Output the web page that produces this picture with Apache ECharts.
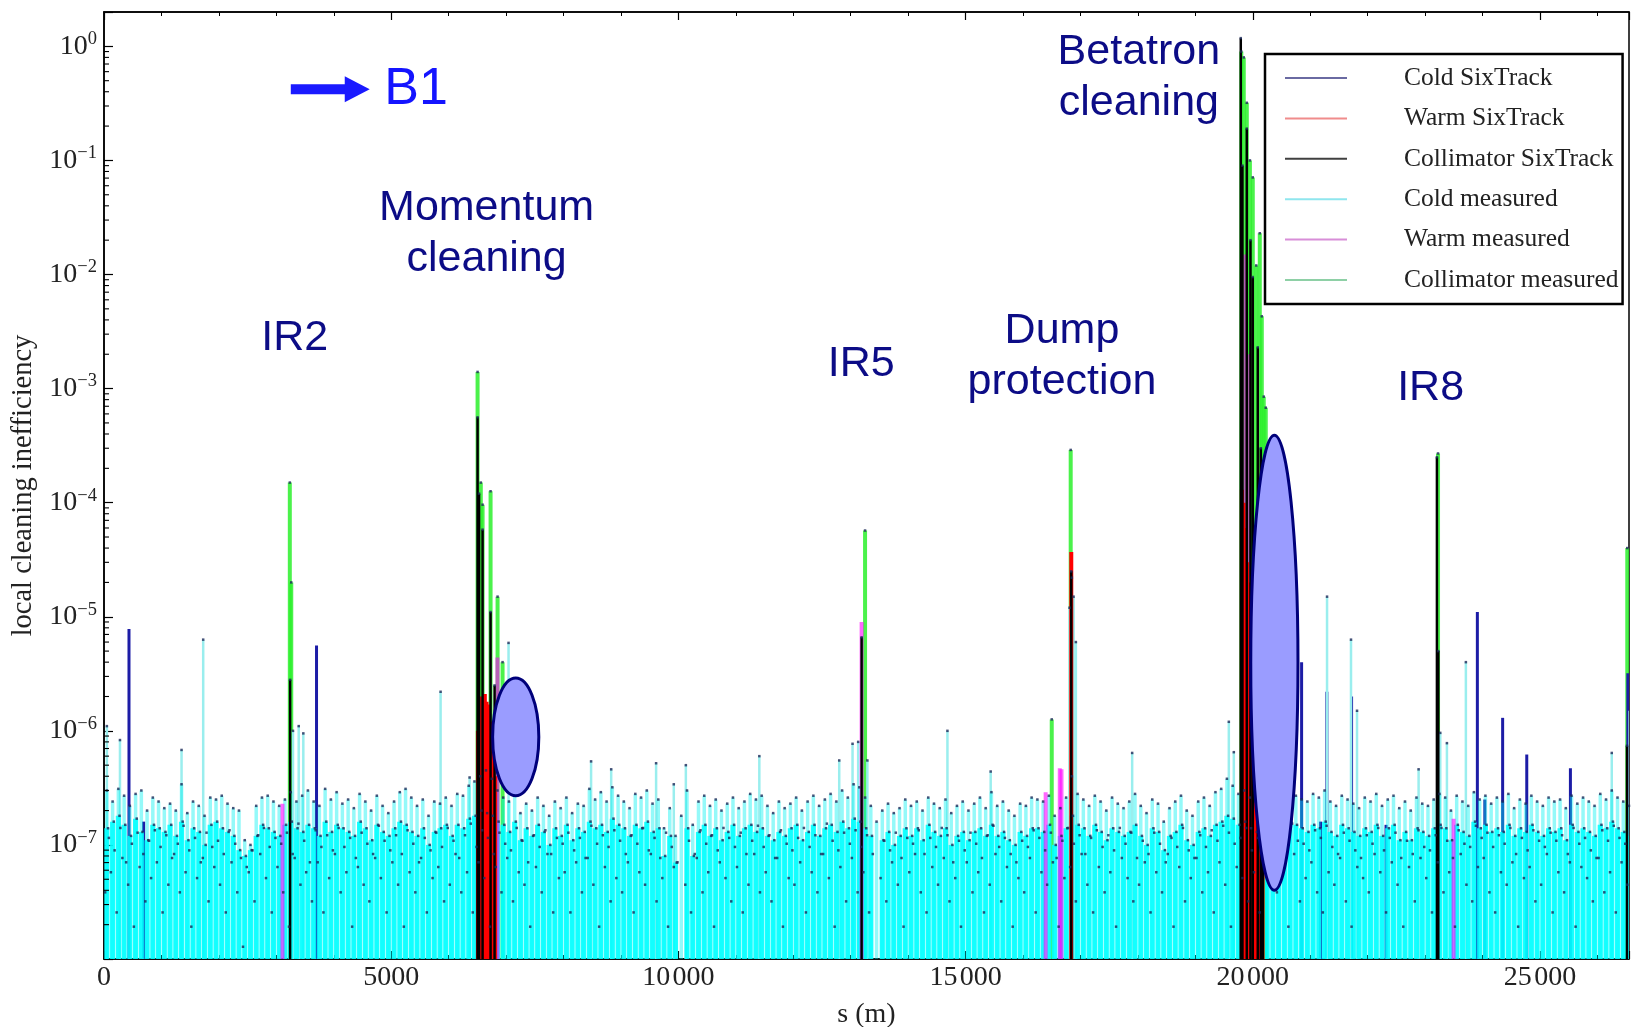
<!DOCTYPE html>
<html>
<head>
<meta charset="utf-8">
<script src="https://cdn.jsdelivr.net/npm/echarts@6.0.0/dist/echarts.min.js"></script>
<style>
html,body{margin:0;padding:0;background:#fff}
#chart{width:1632px;height:1027px}
</style>
</head>
<body>
<div id="chart"></div>
<script>
// axis ranges
var yMin = 1e-8, yMax = 2, sMax = 26550;
var xTickLabels = [0, 5000, 10000, 15000, 20000, 25000];
var decades = [-8, -7, -6, -5, -4, -3, -2, -1, 0];
var minorMantissa = [2, 3, 4, 5, 6, 7, 8, 9];

// cold measured, one value per 100 m bin, in units of 1e-8 (pale tops)
var binStep = 100, unit = 1e-8, quantum = 0.64e-8;
var coldMeasured = [
  30,24,31,27,22,28,30,20,26,24, 21,23,20,34,19,24,22,18,26,25,
  27,23,21,20,11,10,22,26,27,24, 22,25,29,24,27,30,24,22,31,25,
  29,23,25,21,28,24,20,27,22,19, 24,29,31,26,22,25,18,24,23,26,
  22,28,27,33,36,40,45,38,30,26, 24,28,19,23,20,26,22,18,24,21,
  26,19,23,22,31,25,29,24,32,27, 24,21,28,26,30,23,25,14,21,12,
  18,30,15,24,27,22,25,20,23,26, 21,24,28,25,27,22,19,24,21,23,
  26,20,24,27,22,25,28,24,30,26, 34,32,26,22,16,20,23,19,21,25,
  22,24,20,26,23,21,25,19,22,24, 20,23,26,21,29,22,24,20,18,23,
  22,26,25,24,27,18,21,26,40,28, 25,22,27,24,20,26,23,21,24,28,
  22,19,25,23,16,21,24,27,20,18, 24,26,22,29,31,38,33,28,30,26,
  24,20,25,28,26,24,30,27,25,24, 28,26,30,24,22,27,25,23,21,26,
  24,28,22,25,27,21,24,20,26,23, 22,25,28,26,20,27,24,22,29,25,
  27,23,26,24,28,21,25,23,27,24, 22,26,24,25,21,27,23,26,24,22,
  28,25,30,26,24,22,27
];
// second (lower) set of cold monitors, units of 1e-8 (solid fill)
var coldLow = [
  14,16,18,15,12,17,13,11,15,14, 13,15,12,16,11,14,13,10,15,16,
  14,13,12,9,8,9,12,15,14,13, 12,15,16,14,13,15,14,12,16,13,
  15,14,13,12,16,14,11,15,13,12, 14,16,15,13,12,14,10,13,14,15,
  12,15,14,17,18,20,19,18,16,15, 13,16,11,14,12,15,13,10,14,12,
  15,11,14,13,16,14,15,13,17,15, 14,12,15,14,16,13,14,8,12,7,
  0,14,8,13,15,12,14,11,13,15, 12,14,15,13,14,12,11,13,12,14,
  15,11,13,15,12,14,15,13,16,14, 17,16,14,12,0,11,13,10,12,14,
  12,14,11,15,13,12,14,10,12,13, 11,13,14,12,15,12,13,11,10,13,
  12,14,14,13,15,10,12,14,18,15, 14,12,15,13,11,14,13,12,13,15,
  12,10,14,13,9,12,13,15,11,10, 13,14,12,15,16,18,17,15,16,14,
  13,11,14,15,14,13,16,15,14,13, 15,14,16,13,12,15,14,13,12,14,
  13,15,12,14,15,11,13,11,14,13, 12,14,15,14,11,15,13,12,16,14,
  15,13,14,13,15,12,14,13,15,13, 12,14,13,14,11,15,13,14,13,12,
  15,14,16,14,13,12,15
];
// SixTrack loss counts seen as dots (units of the 0.64e-8 quantum)
var dotsA = [
  6,9,4,12,7,3,10,5,8,11, 4,7,13,6,9,3,8,12,5,10, 7,4,11,6,2,9,5,13,8,4,
  10,6,3,12,7,9,5,11,4,8, 13,6,9,3,10,7,5,12,8,4, 11,7,3,9,6,12,4,8,10,5,
  7,13,6,9,4,11,8,3,10,6, 12,5,9,7,3,10,6,13,4,8, 9,4,11,6,12,7,3,10,5,8,
  6,11,4,9,7,13,5,8,3,10, 0,7,4,12,6,9,3,11,8,5, 10,4,7,13,6,9,5,12,3,8,
  7,11,4,9,6,13,8,3,10,5, 12,6,9,4,0,8,5,11,7,3, 9,13,6,4,10,7,12,5,8,3,
  11,6,9,4,7,13,5,10,3,8, 6,12,4,9,7,11,3,8,10,5, 13,7,4,10,6,9,3,12,8,5,
  7,11,4,9,6,13,3,10,5,8, 12,6,9,4,11,7,3,10,8,5, 9,4,12,7,6,10,3,13,5,8,
  11,6,4,9,7,12,5,3,10,8, 6,13,9,4,11,7,3,10,5,12, 8,4,11,6,9,3,13,7,5,10,
  12,6,4,9,7,11,3,8,10,5, 7,13,4,9,6,11,3,10,8,5, 12,6,9,4,11,7,3
];
var dotsB = [
  18,14,22,11,16,20,13,17,21,15, 19,12,16,23,14,18,11,20,15,17, 13,21,16,12,10,14,19,22,15,18,
  16,20,13,24,17,11,21,15,19,14, 22,15,18,12,20,16,13,23,17,14, 19,13,21,16,11,18,14,20,15,22,
  17,12,19,24,15,21,18,13,20,16, 14,22,17,11,19,15,21,13,18,16, 20,14,18,12,23,16,19,15,21,17,
  13,19,16,22,14,18,12,20,15,11, 0,17,13,21,16,19,14,22,18,15, 20,13,17,23,15,19,12,21,16,14,
  18,22,15,19,13,24,17,14,20,16, 21,15,19,13,0,17,14,20,12,18, 16,21,13,18,15,22,19,11,17,14,
  20,16,12,19,23,15,18,13,11,17, 15,21,18,14,20,12,17,22,16,19, 13,18,21,15,19,14,22,16,20,12,
  17,13,20,16,11,18,15,22,14,12, 19,15,21,17,23,20,16,18,22,14, 18,13,20,22,15,19,24,17,16,14,
  21,18,23,15,13,20,17,14,12,19, 16,22,14,18,20,12,17,13,21,15, 14,19,22,17,12,21,16,15,23,18,
  20,15,19,16,22,13,18,14,21,17, 15,20,17,19,13,22,16,18,14,12, 21,17,23,18,16,14,20
];

// isolated cold measured spikes [s (m), value]
var coldSpikeS = [50, 278, 1350, 1727, 3290, 3390, 3470, 5860, 6365, 7043, 8480, 8830, 9612, 9920, 10130,
  11409, 12800, 13032, 13130, 13290, 14684, 15437, 16810, 16850, 16880, 16920, 17900, 19583, 19670,
  21293, 21710, 21815, 22887, 23264, 23380, 23710, 26250, 26560];
var coldSpikeV = [1.1e-6, 8.3e-7, 6.8e-7, 6.3e-6, 1.0e-6, 1.1e-6, 9.5e-7, 2.2e-6, 3.9e-7, 5.9e-6, 5.4e-7, 4.6e-7, 5.2e-7, 3.4e-7, 5e-7,
  6e-7, 5.5e-7, 7.7e-7, 8e-7, 5.5e-7, 1.0e-6, 4.4e-7, 1.2e-5, 2.2e-5, 1.5e-5, 6e-6, 6.4e-7, 1.2e-6, 6.5e-7,
  1.5e-5, 6.3e-6, 1.5e-6, 4.6e-7, 9.6e-7, 7.8e-7, 4e-6, 6.4e-7, 1.5e-6];

// Cold SixTrack
var coldSixS = [435, 690, 3700, 20850, 21180, 21290, 21720, 22320, 23910, 24040, 24350, 24770, 25530, 26530];
var coldSixV = [7.8e-6, 1.6e-7, 5.6e-6, 4.0e-6, 1.6e-7, 2.2e-6, 2.0e-6, 1.5e-7, 1.1e-5, 2.5e-7, 1.3e-6, 6.2e-7, 4.7e-7, 3.2e-6];

// Warm SixTrack
var warmSixS = [6510, 6540, 6570, 6600, 6630, 6660, 6690, 6720, 6750, 6780, 6810, 16840,
  19810, 19840, 19870, 19900, 19930, 19960, 19990, 20020, 20050, 20080, 20110, 20140, 20170];
var warmSixV = [1.0e-6, 1.6e-6, 2.0e-6, 1.9e-6, 2.1e-6, 1.8e-6, 1.7e-6, 1.2e-6, 8e-7, 6e-7, 4e-7, 3.7e-5,
  1.3e-4, 1.0e-4, 6e-5, 3e-5, 2e-5, 1e-5, 8e-6, 6e-6, 5e-6, 4e-6, 3e-6, 2e-6, 1e-6];

// Collimator SixTrack
var collSixS = [3240, 6504, 6530, 6591, 6730, 6800, 13190, 16840, 19791, 19820, 19896, 19960, 20000, 20087, 20140, 20175, 23206, 23230, 26515];
var collSixV = [2.8e-6, 5.6e-4, 1.2e-4, 5.8e-5, 1.1e-5, 2.5e-6, 6.6e-6, 2.5e-5, 1.18, 0.09, 0.19, 0.02, 9.5e-3, 2.3e-3, 3e-4, 2e-4, 2.5e-4, 5e-6, 7.4e-7];

// Warm measured
var warmMeasS = [3107, 6850, 13190, 16394, 16640, 16670, 19870, 19930, 23496, 26600];
var warmMeasV = [2.3e-7, 4.4e-6, 9e-6, 2.9e-7, 4.7e-7, 4.6e-7, 0.015, 2e-3, 1.7e-7, 2.5e-7];

// Collimator measured
var collMeasS = [3235, 3260, 6504, 6560, 6591, 6730, 6852, 6939, 13250, 16500, 16830,
  19800, 19843, 19896, 19950, 20000, 20060, 20122, 20157, 20191, 20226, 23225, 26520];
var collMeasV = [1.5e-4, 2e-5, 1.4e-3, 1.5e-4, 9.6e-5, 1.26e-4, 1.5e-5, 4e-6, 5.7e-5, 1.26e-6, 2.9e-4,
  0.9, 0.8, 0.32, 0.1, 0.071, 0.012, 0.023, 4.3e-3, 8.5e-4, 6.8e-4, 2.7e-4, 4e-5];

// annotations (data coordinates)
var labelText = ['Momentum\ncleaning', 'IR2', 'IR5', 'Dump\nprotection', 'Betatron\ncleaning', 'IR8'];
var labelS = [6661, 3322, 13183, 16678, 18017, 23096];
var labelV = [0.0226, 2.79e-3, 1.65e-3, 1.89e-3, 0.535, 1.01e-3];
// ellipses: s from, s to, value top, value bottom
var ellipseS0 = [6766, 19965], ellipseS1 = [7570, 20787];
var ellipseTop = [2.9e-6, 3.9e-4], ellipseBottom = [2.7e-7, 4.0e-8];
// beam direction arrow
var arrowS = [3252, 4191, 4626], arrowV = 0.42, beamS = 4880, beamV = 0.415;

function pairs(sArr, vArr) {
  var out = [];
  for (var i = 0; i < sArr.length; i++) if (vArr[i] > 0) out.push([sArr[i], vArr[i]]);
  return out;
}
function binPairs(vals, scale, shift) {
  var out = [];
  for (var i = 0; i < vals.length; i++) {
    if (vals[i] > 0) out.push([binStep * i + binStep / 2 + shift, vals[i] * scale]);
  }
  return out;
}

function stick(width, color, opacity) {
  return function (params, api) {
    var s = api.value(0), v = api.value(1);
    var top = api.coord([s, v]);
    var base = api.coord([s, yMin]);
    return {
      type: 'rect',
      shape: { x: top[0] - width / 2, y: top[1], width: width, height: base[1] - top[1] },
      style: { fill: color, opacity: opacity }
    };
  };
}
function stickSeries(name, data, width, color, opacity) {
  return {
    type: 'custom', name: name, data: data, renderItem: stick(width, color, opacity),
    encode: { x: 0, y: 1 }, silent: true, clip: true, animation: false
  };
}

var minorTicks = [];
decades.forEach(function (d) {
  minorMantissa.forEach(function (m) {
    var v = m * Math.pow(10, d);
    if (v < yMax) minorTicks.push([0, v]);
  });
});

var dots = []
  .concat(binPairs(coldMeasured, unit, 0))
  .concat(binPairs(coldLow, unit, 20))
  .concat(binPairs(dotsA, quantum, -30))
  .concat(binPairs(dotsB, quantum, 35))
  .concat(pairs(collMeasS, collMeasV))
  .concat(pairs(collSixS, collSixV))
  .concat(pairs(coldSpikeS, coldSpikeV));

var serif = 'Liberation Serif';

var xAxisBase = {
  type: 'value', min: 0, max: sMax, interval: 5000,
  axisLine: { show: true, lineStyle: { color: '#000', width: 1.5 } },
  axisTick: { show: true, inside: true, length: 8, lineStyle: { color: '#000', width: 1.2 } },
  minorTick: { show: true, splitNumber: 5, length: 4, lineStyle: { color: '#000', width: 1 } },
  splitLine: { show: false }
};

var option = {
  backgroundColor: '#fff',
  animation: false,
  grid: {
    left: 104, right: 3, top: 12, bottom: 68, outerBoundsMode: 'none', containLabel: false,
    show: true, borderColor: '#000', borderWidth: 1.5
  },
  legend: {
    orient: 'vertical', left: 1265, top: 54,
    icon: 'rect', itemWidth: 62, itemHeight: 2, itemGap: 14.4,
    padding: [11, 4, 11, 20],
    borderColor: '#000', borderWidth: 2.5, backgroundColor: '#fff',
    selectedMode: false, z: 20,
    textStyle: { fontFamily: serif, fontSize: 25.5, color: '#222', lineHeight: 26, padding: [0, 0, 0, 52] },
    data: [
      { name: 'Cold SixTrack', itemStyle: { color: '#6a6aa2' } },
      { name: 'Warm SixTrack', itemStyle: { color: '#f08c8c' } },
      { name: 'Collimator SixTrack', itemStyle: { color: '#404040' } },
      { name: 'Cold measured', itemStyle: { color: '#8fe6ee' } },
      { name: 'Warm measured', itemStyle: { color: '#d88ed8' } },
      { name: 'Collimator measured', itemStyle: { color: '#8ed0a6' } }
    ]
  },
  xAxis: [
    Object.assign({}, xAxisBase, {
      position: 'bottom',
      name: 's (m)', nameLocation: 'middle', nameGap: 42,
      nameTextStyle: { fontFamily: serif, fontSize: 28, color: '#222' },
      axisLabel: {
        fontFamily: serif, fontSize: 28, color: '#222', margin: 5, showMaxLabel: false,
        formatter: function (v) {
          if (xTickLabels.indexOf(v) < 0) return '';
          var t = String(v);
          return t.length > 4 ? t.slice(0, 2) + '\u200a' + t.slice(2) : t;
        }
      }
    }),
    Object.assign({}, xAxisBase, { position: 'top', axisLabel: { show: false } })
  ],
  yAxis: {
    type: 'log', logBase: 10, min: yMin, max: yMax, interval: 1,
    name: 'local cleaning inefficiency', nameLocation: 'middle', nameGap: 63, nameRotate: 90,
    nameTextStyle: { fontFamily: serif, fontSize: 28.5, color: '#222' },
    axisLine: { show: true, lineStyle: { color: '#000', width: 1.5 } },
    axisTick: { show: true, inside: true, length: 9, lineStyle: { color: '#000', width: 1.2 } },
    splitLine: { show: false },
    axisLabel: {
      fontFamily: serif, fontSize: 28, color: '#222', margin: 7,
      formatter: function (v) {
        var l = Math.log10(v), e = Math.round(l);
        if (Math.abs(l - e) > 1e-6 || e === -8) return '';
        return '10{e|' + (e < 0 ? '\u2212' + (-e) : e) + '}';
      },
      rich: { e: { fontFamily: serif, fontSize: 18.5, color: '#222', padding: [0, 0, 14, 0] } }
    }
  },
  series: [
    stickSeries('Collimator measured', pairs(collMeasS, collMeasV), 4, '#2cf02c', 0.85),
    stickSeries('Cold SixTrack', pairs(coldSixS, coldSixV), 3, '#1c1ca6', 1),
    stickSeries('Cold measured', pairs(coldSpikeS, coldSpikeV), 2.5, '#9aeeee', 1),
    stickSeries('Cold measured', binPairs(coldMeasured, unit, 0), 3.5, '#00f0f0', 0.42),
    stickSeries('Cold measured', binPairs(coldLow, unit, 0), 5.2, '#00ffff', 0.88),
    stickSeries('Warm measured', pairs(warmMeasS, warmMeasV), 4, '#ff00ff', 0.6),
    stickSeries('Warm SixTrack', pairs(warmSixS, warmSixV), 4, '#ff0000', 1),
    stickSeries('Collimator SixTrack', pairs(collSixS, collSixV), 2.5, '#000000', 1),
    {
      type: 'scatter', name: 'dots', data: dots, symbol: 'rect', symbolSize: 2.5,
      itemStyle: { color: '#1a2858' }, silent: true, animation: false, z: 3
    },
    {
      type: 'custom', name: 'minor', data: minorTicks, encode: { x: 0, y: 1 }, silent: true, z: 4,
      renderItem: function (params, api) {
        var p = api.coord([0, api.value(1)]);
        return { type: 'line', shape: { x1: p[0], y1: p[1], x2: p[0] + 5, y2: p[1] }, style: { stroke: '#000', lineWidth: 1.1 } };
      }
    }
  ]
};

var chart = echarts.init(document.getElementById('chart'), null, { renderer: 'canvas' });
chart.setOption(option);

function px(s, v) { return chart.convertToPixel({ xAxisIndex: 0, yAxisIndex: 0 }, [s, v]); }

var graphics = [];
for (var i = 0; i < ellipseS0.length; i++) {
  var a = px(ellipseS0[i], ellipseTop[i]), b = px(ellipseS1[i], ellipseBottom[i]);
  graphics.push({
    type: 'ellipse', z: 30,
    shape: { cx: (a[0] + b[0]) / 2, cy: (a[1] + b[1]) / 2, rx: (b[0] - a[0]) / 2, ry: (b[1] - a[1]) / 2 },
    style: { fill: '#9a9cff', stroke: '#00007a', lineWidth: 3 }
  });
}
for (var j = 0; j < labelText.length; j++) {
  var p = px(labelS[j], labelV[j]);
  graphics.push({
    type: 'text', z: 30, x: p[0], y: p[1],
    style: { text: labelText[j], fill: '#0c0c86', font: '43px "Liberation Sans"', align: 'center', verticalAlign: 'middle', lineHeight: 51 }
  });
}
var a0 = px(arrowS[0], arrowV), a1 = px(arrowS[1], arrowV), a2 = px(arrowS[2], arrowV);
graphics.push({ type: 'rect', z: 30, shape: { x: a0[0], y: a0[1] - 5, width: a1[0] - a0[0] + 1, height: 10 }, style: { fill: '#1a1aff' } });
graphics.push({ type: 'polygon', z: 30, shape: { points: [[a1[0], a1[1] - 13], [a2[0], a2[1]], [a1[0], a1[1] + 13]] }, style: { fill: '#1a1aff' } });
var bp = px(beamS, beamV);
graphics.push({
  type: 'text', z: 30, x: bp[0], y: bp[1],
  style: { text: 'B1', fill: '#1414ff', font: '52px "Liberation Sans"', align: 'left', verticalAlign: 'middle' }
});
chart.setOption({ graphic: graphics });
</script>
</body>
</html>
